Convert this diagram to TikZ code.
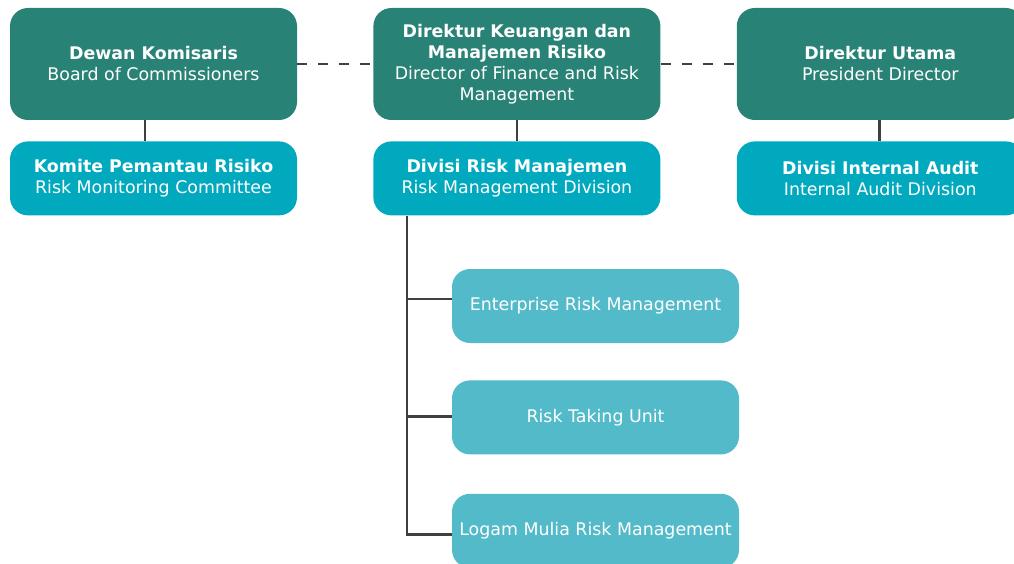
\documentclass[tikz,border=0pt]{standalone}
\usepackage{fontspec}
\setmainfont{DejaVu Sans}
\usetikzlibrary{positioning}
\definecolor{boardgreen}{HTML}{298276}
\definecolor{divteal}{HTML}{00A9BD}
\definecolor{unitteal}{HTML}{52BAC8}
\definecolor{linegray}{HTML}{404040}
\begin{document}
\begin{tikzpicture}[x=1pt,y=-1pt]
\tikzset{box/.style={rounded corners=18pt,text=white,align=center,minimum width=287pt,
    inner sep=0pt,font=\fontsize{17.4}{21}\selectfont},
  board/.style={box,fill=boardgreen,minimum height=112pt},
  division/.style={box,fill=divteal,minimum height=74pt},
  unit/.style={box,fill=unitteal,minimum height=74pt},
  link/.style={linegray,line width=2.8pt}}
\useasboundingbox (0,0) rectangle (1014,564);
% top row
\node[board] (dewan) at (153.5,64) {\textbf{Dewan Komisaris}\\Board of Commissioners};
\node[board,right=76pt of dewan] (dirkeu) {\textbf{Direktur Keuangan dan}\\\textbf{Manajemen Risiko}\\Director of Finance and Risk\\Management};
\node[board,right=76pt of dirkeu] (dirut) {\textbf{Direktur Utama}\\President Director};
% divisions
\node[division,below=21pt of dewan] (komite) {\textbf{Komite Pemantau Risiko}\\Risk Monitoring Committee};
\node[division,below=21pt of dirkeu] (divrm) {\textbf{Divisi Risk Manajemen}\\Risk Management Division};
\node[division,below=21pt of dirut] (divia) {\textbf{Divisi Internal Audit}\\Internal Audit Division};
% units under risk management
\node[unit] (erm) at (595.5,306) {Enterprise Risk Management};
\node[unit,below=37pt of erm] (rtu) {Risk Taking Unit};
\node[unit,below=39pt of rtu] (logam) {Logam Mulia Risk Management};
%%%
\draw[link,dash pattern=on 10pt off 11pt] (dewan) -- (dirkeu);
\draw[link,dash pattern=on 10pt off 11pt] (dirkeu) -- (dirut);
\draw[link] ([xshift=-8.5pt]dewan.south) -- ([xshift=-8.5pt]komite.north);
\draw[link] (dirkeu) -- (divrm);
\draw[link] ([xshift=-1pt]dirut.south) -- ([xshift=-1pt]divia.north);
%%%
\coordinate (trunk) at ([xshift=-110pt]divrm.south);
\draw[link] (trunk) |- ([yshift=-4pt]logam.west);
\foreach \u/\dy in {erm/7,rtu/1}
  \draw[link] ([yshift=\dy pt]\u.west) -| (trunk);
\end{tikzpicture}
\end{document}
